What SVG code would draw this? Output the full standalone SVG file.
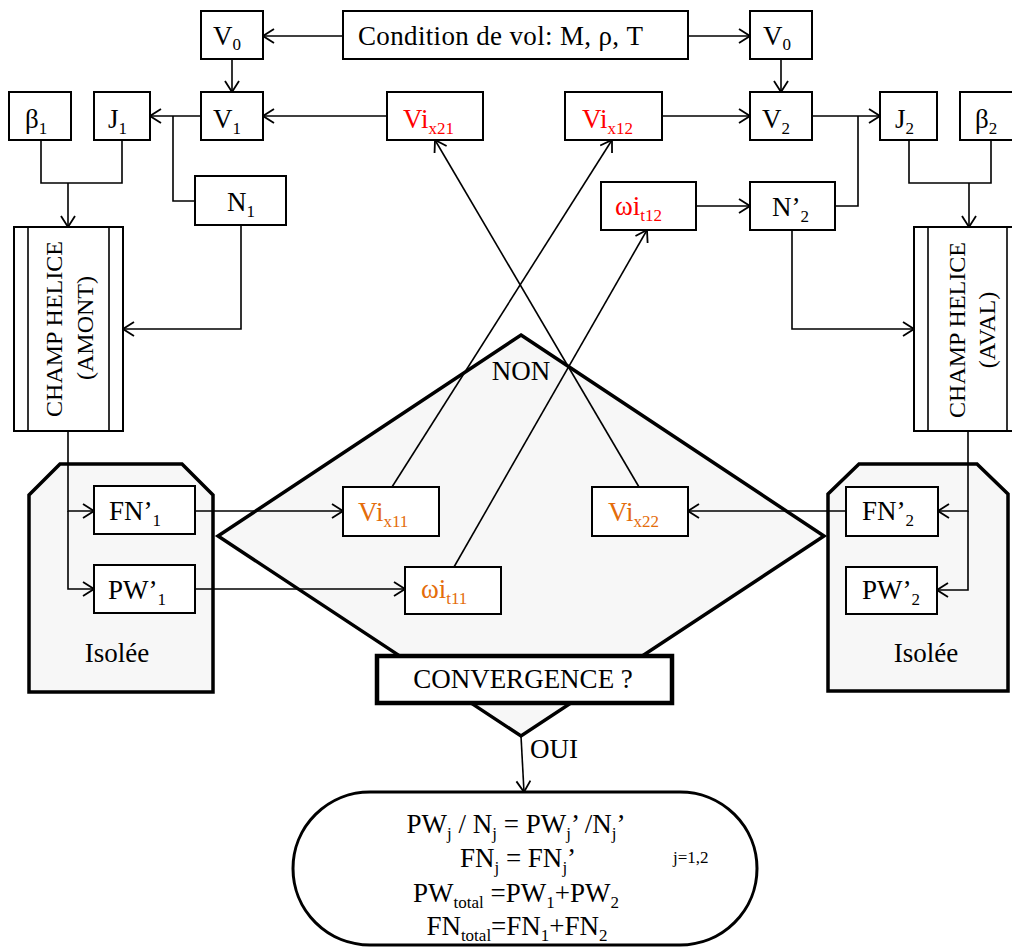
<svg xmlns="http://www.w3.org/2000/svg" width="1012" height="947" viewBox="0 0 1012 947">
<defs>
<style>
text{font-family:"Liberation Serif","Times New Roman",serif;font-size:27px;fill:#000}
.sub{font-size:17px}
.small{font-size:17px}
.red{fill:#ff0000}
.org{fill:#e46c0a}
.box{fill:#fff;stroke:#000;stroke-width:2}
.cn{fill:none;stroke:#000;stroke-width:1.6}
.arr{marker-end:url(#ah)}
.bg{fill:#f7f7f7;stroke:#000;stroke-width:3.5;stroke-linejoin:miter}
.rot{font-size:24px;text-anchor:middle}
.mid{text-anchor:middle}
</style>
<marker id="ah" viewBox="0 0 13 16" refX="12" refY="8" markerWidth="13" markerHeight="16" markerUnits="userSpaceOnUse" orient="auto">
<path d="M1,1 L12,8 L1,15" fill="none" stroke="#000" stroke-width="1.8"/>
</marker>
</defs>

<g id="backgrounds">
<g id="isolee1"><polygon class="bg" points="60,464 182,464 213,495 213,692 29,692 29,495"/><text x="117" y="662" class="mid">Isolée</text></g>
<g id="isolee2"><polygon class="bg" points="859,464 977,464 1008,494 1008,691 828,691 828,494"/><text x="926" y="662" class="mid">Isolée</text></g>
<g id="diamond"><polygon class="bg" points="521,335 824,536 521,736 218,536"/><text x="521" y="380" class="mid">NON</text></g>
<g id="convergence"><rect x="377" y="656" width="295" height="47" fill="#fff" stroke="#000" stroke-width="4.5"/><text x="523" y="688" class="mid">CONVERGENCE ?</text></g>
</g>

<g id="connectors">
<line class="cn arr" x1="343" y1="36" x2="263" y2="36"/>
<line class="cn arr" x1="688" y1="36" x2="750" y2="36"/>
<line class="cn arr" x1="232" y1="59" x2="232" y2="92"/>
<line class="cn arr" x1="781" y1="59" x2="781" y2="92"/>
<line class="cn arr" x1="387" y1="116" x2="263" y2="116"/>
<line class="cn arr" x1="201" y1="116" x2="150" y2="116"/>
<polyline class="cn" points="195,201 173,201 173,116"/>
<polyline class="cn" points="41,140 41,183 122,183 122,140"/>
<line class="cn arr" x1="68" y1="183" x2="68" y2="227"/>
<polyline class="cn arr" points="241,225 241,329 123,329"/>
<polyline class="cn arr" points="68,431 68,511 94,511"/>
<polyline class="cn arr" points="68,511 68,589 94,589"/>
<line class="cn arr" x1="195" y1="511" x2="343" y2="511"/>
<line class="cn arr" x1="195" y1="589" x2="405" y2="589"/>
<line class="cn arr" x1="392" y1="487" x2="612" y2="140"/>
<line class="cn arr" x1="639" y1="487" x2="435" y2="140"/>
<line class="cn arr" x1="454" y1="567" x2="647" y2="230"/>
<line class="cn arr" x1="662" y1="116" x2="750" y2="116"/>
<line class="cn arr" x1="696" y1="206" x2="750" y2="206"/>
<line class="cn arr" x1="812" y1="116" x2="880" y2="116"/>
<polyline class="cn" points="835,206 858,206 858,116"/>
<polyline class="cn" points="909,140 909,183 991,183 991,140"/>
<line class="cn arr" x1="969" y1="183" x2="969" y2="227"/>
<polyline class="cn arr" points="792,230 792,329 914,329"/>
<polyline class="cn arr" points="968,431 968,511 938,511"/>
<polyline class="cn arr" points="968,511 968,590 937,590"/>
<line class="cn arr" x1="846" y1="511" x2="688" y2="511"/>
<line class="cn arr" x1="521" y1="736" x2="524" y2="792"/>
<text x="530" y="758">OUI</text>
</g>

<g id="condition"><rect class="box" x="343" y="11" width="345" height="48"/><text x="358" y="45" textLength="285" lengthAdjust="spacing">Condition  de vol: M, ρ, T</text></g>
<g id="v0a"><rect class="box" x="201" y="11" width="62" height="48"/><text x="213" y="45">V<tspan class="sub" dy="5">0</tspan></text></g>
<g id="v0b"><rect class="box" x="750" y="11" width="62" height="48"/><text x="763" y="45">V<tspan class="sub" dy="5">0</tspan></text></g>
<g id="v1"><rect class="box" x="201" y="92" width="62" height="48"/><text x="213" y="128">V<tspan class="sub" dy="6">1</tspan></text></g>
<g id="beta1"><rect class="box" x="9" y="92" width="62" height="48"/><text x="25" y="128">β<tspan class="sub" dy="6">1</tspan></text></g>
<g id="j1"><rect class="box" x="94" y="92" width="56" height="48"/><text x="108" y="128">J<tspan class="sub" dy="6">1</tspan></text></g>
<g id="n1"><rect class="box" x="195" y="176" width="91" height="49"/><text x="227" y="211">N<tspan class="sub" dy="6">1</tspan></text></g>
<g id="vix21"><rect class="box" x="387" y="92" width="96" height="48"/><text x="403" y="128" class="red">Vi<tspan class="sub" dy="6">x21</tspan></text></g>
<g id="vix12"><rect class="box" x="565" y="92" width="97" height="48"/><text x="582" y="128" class="red">Vi<tspan class="sub" dy="6">x12</tspan></text></g>
<g id="v2"><rect class="box" x="750" y="92" width="62" height="48"/><text x="762" y="128">V<tspan class="sub" dy="6">2</tspan></text></g>
<g id="j2"><rect class="box" x="880" y="92" width="57" height="48"/><text x="895" y="128">J<tspan class="sub" dy="6">2</tspan></text></g>
<g id="beta2"><rect class="box" x="960" y="92" width="62" height="48"/><text x="975" y="128">β<tspan class="sub" dy="6">2</tspan></text></g>
<g id="wit12"><rect class="box" x="601" y="182" width="95" height="48"/><text x="615" y="215" class="red">ωi<tspan class="sub" dy="6">t12</tspan></text></g>
<g id="n2"><rect class="box" x="750" y="182" width="85" height="48"/><text x="772" y="216">N’<tspan class="sub" dy="6">2</tspan></text></g>
<g id="champ1"><rect class="box" x="14" y="227" width="109" height="204"/><line class="cn" x1="28" y1="227" x2="28" y2="431"/><line class="cn" x1="109" y1="227" x2="109" y2="431"/>
<text class="rot" transform="translate(62,329) rotate(-90)">CHAMP HELICE</text><text class="rot" transform="translate(93,328) rotate(-90)">(AMONT)</text></g>
<g id="champ2"><rect class="box" x="914" y="227" width="107" height="204"/><line class="cn" x1="928" y1="227" x2="928" y2="431"/><line class="cn" x1="1007" y1="227" x2="1007" y2="431"/>
<text class="rot" transform="translate(965,330) rotate(-90)">CHAMP HELICE</text><text class="rot" transform="translate(995,330) rotate(-90)">(AVAL)</text></g>
<g id="fn1"><rect class="box" x="94" y="486" width="101" height="48"/><text x="109" y="520">FN’<tspan class="sub" dy="6">1</tspan></text></g>
<g id="pw1"><rect class="box" x="94" y="565" width="101" height="48"/><text x="108" y="599">PW’<tspan class="sub" dy="6">1</tspan></text></g>
<g id="vix11"><rect class="box" x="343" y="487" width="96" height="49"/><text x="358" y="521" class="org">Vi<tspan class="sub" dy="6">x11</tspan></text></g>
<g id="vix22"><rect class="box" x="592" y="487" width="96" height="49"/><text x="608" y="521" class="org">Vi<tspan class="sub" dy="6">x22</tspan></text></g>
<g id="wit11"><rect class="box" x="405" y="567" width="96" height="47"/><text x="421" y="598" class="org">ωi<tspan class="sub" dy="6">t11</tspan></text></g>
<g id="fn2"><rect class="box" x="846" y="487" width="92" height="49"/><text x="862" y="520">FN’<tspan class="sub" dy="6">2</tspan></text></g>
<g id="pw2"><rect class="box" x="846" y="567" width="91" height="47"/><text x="862" y="599">PW’<tspan class="sub" dy="6">2</tspan></text></g>

<g id="result">
<rect x="293" y="792" width="464" height="153" rx="77" ry="77" fill="#fff" stroke="#000" stroke-width="3"/>
<text x="516" y="833" class="mid">PW<tspan class="sub" dy="6">j</tspan><tspan dy="-6"> / N</tspan><tspan class="sub" dy="6">j</tspan><tspan dy="-6"> = PW</tspan><tspan class="sub" dy="6">j</tspan><tspan dy="-6">’ /N</tspan><tspan class="sub" dy="6">j</tspan><tspan dy="-6">’</tspan></text>
<text x="518" y="867" class="mid">FN<tspan class="sub" dy="6">j</tspan><tspan dy="-6"> = FN</tspan><tspan class="sub" dy="6">j</tspan><tspan dy="-6">’</tspan></text>
<text x="673" y="863" class="small">j=1,2</text>
<text x="516" y="902" class="mid">PW<tspan class="sub" dy="6">total</tspan><tspan dy="-6"> =PW</tspan><tspan class="sub" dy="6">1</tspan><tspan dy="-6">+PW</tspan><tspan class="sub" dy="6">2</tspan></text>
<text x="517" y="935" class="mid">FN<tspan class="sub" dy="6">total</tspan><tspan dy="-6">=FN</tspan><tspan class="sub" dy="6">1</tspan><tspan dy="-6">+FN</tspan><tspan class="sub" dy="6">2</tspan></text>
</g>
</svg>
